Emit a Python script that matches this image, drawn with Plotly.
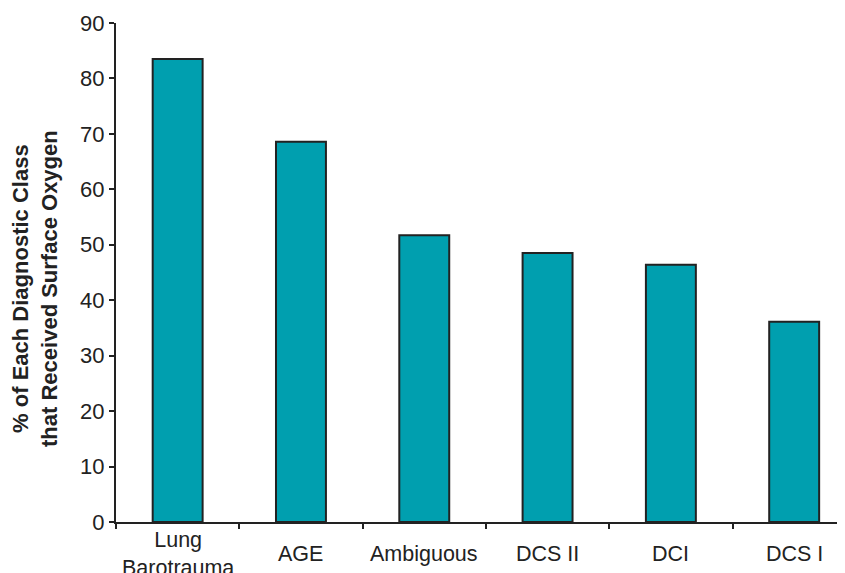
import plotly.graph_objects as go

categories = ["Lung<br>Barotrauma", "AGE", "Ambiguous", "DCS II", "DCI", "DCS I"]
values = [83.5, 68.6, 51.7, 48.5, 46.4, 36.1]
y_ticks = [0, 10, 20, 30, 40, 50, 60, 70, 80, 90]
y_title = "<b>% of Each Diagnostic Class<br>that Received Surface Oxygen</b>"

FONT = "Liberation Sans, Arial, sans-serif"
TXT = "#222222"

fig = go.Figure()
fig.add_trace(go.Bar(
    x=categories, y=values,
    width=0.405,
    marker=dict(color="#009FAF", line=dict(color="#222222", width=2)),
))

for c in categories:
    fig.add_annotation(
        x=c, y=0, xref="x", yref="y",
        text=c, showarrow=False,
        yanchor="middle", xanchor="center",
        yshift=-32,
        font=dict(family=FONT, size=21.5, color=TXT),
    )

# y-axis title, placed as a rotated annotation
fig.add_annotation(
    x=-0.1099, y=0.467, xref="paper", yref="paper",
    text=y_title, showarrow=False, textangle=-90,
    xanchor="center", yanchor="middle",
    font=dict(family=FONT, size=22, color=TXT),
)

fig.update_layout(
    width=845, height=573,
    margin=dict(l=108, r=0, t=15, b=59),
    paper_bgcolor="white", plot_bgcolor="white",
    showlegend=False,
    font=dict(family=FONT, color=TXT),
    xaxis=dict(
        type="category",
        range=[-0.5, 5.477],
        showticklabels=False, automargin=False,
        ticks="outside", tickson="boundaries", ticklen=5, tickwidth=2, tickcolor="#222222",
        showline=True, linecolor="#222222", linewidth=2,
        showgrid=False, zeroline=False,
    ),
    yaxis=dict(
        range=[0, 90],
        tickvals=y_ticks, automargin=False,
        ticks="outside", ticklen=5, tickwidth=2, tickcolor="#222222",
        showline=True, linecolor="#222222", linewidth=2,
        showgrid=False, zeroline=False,
        tickfont=dict(family=FONT, size=22, color=TXT),
    ),
)

fig.write_html("out.html")
